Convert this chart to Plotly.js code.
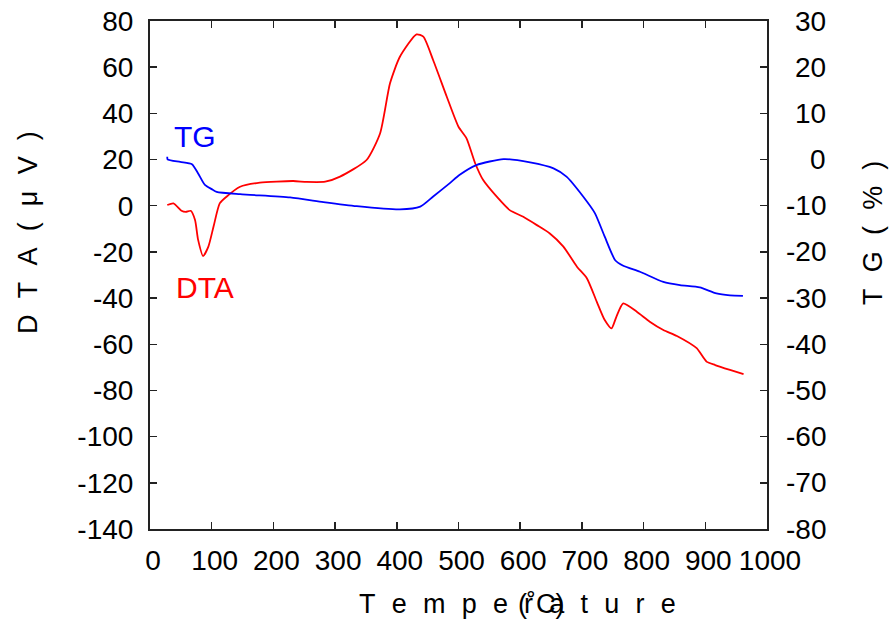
<!DOCTYPE html>
<html>
<head>
<meta charset="utf-8">
<script src="https://cdn.plot.ly/plotly-3.0.1.min.js"></script>
<style>html,body{margin:0;padding:0;background:#fff;}#chart{width:892px;height:625px;}</style>
</head>
<body>
<div id="chart"></div>
<script>
// DTA curve (µV) vs temperature (°C)
const dtaTemp = [28, 38, 51, 58, 66, 73, 78, 86, 94.6, 103, 113, 124, 146, 178, 232, 254, 284, 308, 351, 373, 389, 405, 432, 443, 459, 481, 500, 513, 527, 540, 562, 583, 605, 627, 648, 670, 692, 708, 724, 737, 748, 756, 767, 789, 810, 832, 854, 886, 902, 916, 940, 962];
const dtaVal  = [0.3, 1, -2.2, -2.7, -2.2, -6.2, -14.8, -21.8, -17.7, -9, 1, 3.9, 8.2, 10, 10.7, 10.3, 10.4, 12.6, 19.8, 31.4, 53, 64.5, 74.2, 73.2, 63, 47.2, 34.2, 29.2, 18.4, 11.1, 3.9, -1.9, -4.8, -8.4, -12, -17.7, -26.4, -31.4, -41.5, -49.5, -53.1, -48, -42.3, -45.9, -50.2, -53.8, -56.4, -61.7, -67.5, -69, -71.1, -72.9];

// TG curve (%) vs temperature (°C)
const tgTemp = [28, 28.5, 49, 68, 78, 89, 100, 108, 146, 227, 281, 335, 405, 438, 459, 486, 502, 529, 573, 616, 654, 675, 702, 721, 737, 754, 767, 794, 832, 859, 891, 918, 940, 961];
const tgVal  = [0.6, 0.05, -0.5, -1.0, -3.0, -5.5, -6.4, -7.0, -7.5, -8.2, -9.2, -10.1, -10.8, -10.2, -8.0, -5.1, -3.3, -1.2, 0.1, -0.6, -1.9, -3.7, -8.0, -11.6, -16.7, -21.8, -23, -24.3, -26.5, -27.2, -27.7, -29.0, -29.4, -29.5];

const xTicks = [0, 100, 200, 300, 400, 500, 600, 700, 800, 900, 1000];
const dtaTicks = [80, 60, 40, 20, 0, -20, -40, -60, -80, -100, -120, -140];
const tgTicks = [30, 20, 10, 0, -10, -20, -30, -40, -50, -60, -70, -80];

const xTitle = 'Temperature';
const xUnit = '(˚C)';
const dtaTitle = 'DTA(μV)';
const tgTitle = 'TG(%)';

const F = 'Liberation Sans, Arial, Helvetica, sans-serif';
const tickFont = {family: F, size: 28, color: '#000'};
const titleFont = {family: F, size: 27, color: '#000'};
const GAP = '\u2009\u2009\u2009';
const spaced = s => Array.from(s).join(GAP);

const traces = [
  {x: dtaTemp, y: dtaVal, type: 'scatter', mode: 'lines', line: {color: '#ff0000', width: 1.8, shape: 'spline', smoothing: 0.6}, yaxis: 'y', hoverinfo: 'skip'},
  {x: tgTemp, y: tgVal, type: 'scatter', mode: 'lines', line: {color: '#0000ff', width: 1.8, shape: 'spline', smoothing: 0.6}, yaxis: 'y2', hoverinfo: 'skip'}
];

const W = 892, H = 625, L = 150, R = 125, T = 21, B = 96;
const px = v => (v - L) / (W - L - R);
const py = v => 1 - (v - T) / (H - T - B);

const annotations = [
  {text: 'TG', x: px(195), y: py(136), font: {family: F, size: 30, color: '#0000ff'}},
  {text: 'DTA', x: px(205), y: py(287), font: {family: F, size: 30, color: '#ff0000'}},
  {text: spaced(xTitle), x: px(517), y: py(604), font: titleFont},
  {text: xUnit, x: px(541), y: py(604), font: titleFont},
  {text: spaced(dtaTitle), x: px(28), y: py(233), textangle: -90, font: titleFont},
  {text: spaced(tgTitle), x: px(873), y: py(233), textangle: -90, font: titleFont}
].map(a => Object.assign({xref: 'paper', yref: 'paper', showarrow: false, xanchor: 'center', yanchor: 'middle'}, a));

// right-axis tick labels, right-aligned like the reference
tgTicks.forEach(v => annotations.push({
  text: String(v), xref: 'paper', yref: 'y2', x: px(828), y: v,
  xanchor: 'right', yanchor: 'middle', showarrow: false, font: tickFont
}));

const layout = {
  width: W, height: H,
  margin: {l: L, r: R, t: T, b: B},
  paper_bgcolor: '#fff', plot_bgcolor: '#fff',
  showlegend: false,
  xaxis: {
    range: [0, 1000], tickvals: xTicks, ticktext: xTicks.map(String),
    ticks: 'inside', ticklen: 7, tickwidth: 1.5, tickcolor: '#222',
    showline: true, linewidth: 2, linecolor: '#222', mirror: 'ticks',
    showgrid: false, zeroline: false, tickfont: tickFont, ticklabelshift: 3, ticklabelstandoff: 5
  },
  yaxis: {
    range: [-140, 80], tickvals: dtaTicks, ticktext: dtaTicks.map(String),
    ticks: 'inside', ticklen: 7, tickwidth: 1.5, tickcolor: '#222',
    showline: true, linewidth: 2, linecolor: '#222', mirror: true,
    showgrid: false, zeroline: false, tickfont: tickFont, ticklabelstandoff: 9
  },
  yaxis2: {
    range: [-80, 30], tickvals: tgTicks, showticklabels: false,
    overlaying: 'y', side: 'right',
    ticks: 'inside', ticklen: 7, tickwidth: 1.5, tickcolor: '#222',
    showline: true, linewidth: 2, linecolor: '#222',
    showgrid: false, zeroline: false
  },
  annotations: annotations
};

Plotly.newPlot('chart', traces, layout, {displayModeBar: false, staticPlot: true});
</script>
</body>
</html>
